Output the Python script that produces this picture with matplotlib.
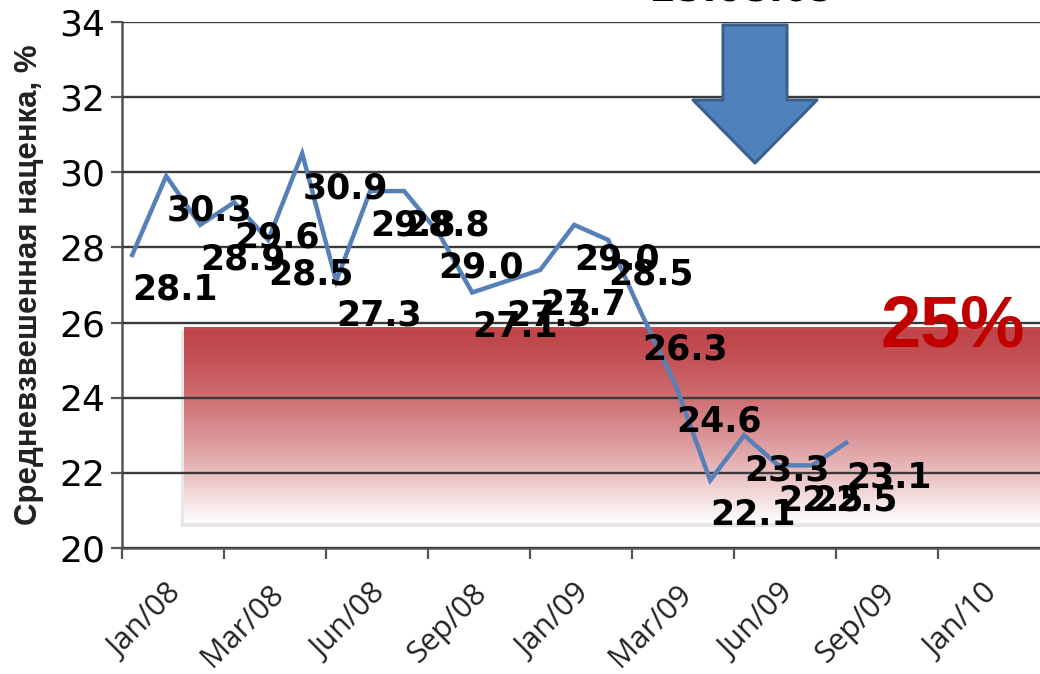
import numpy as np
import matplotlib
matplotlib.use("Agg")
import matplotlib.pyplot as plt
from matplotlib.patches import Polygon, Rectangle

# line values (one per month, Jan/08 .. Oct/09)
margin = [27.8, 29.9, 28.6, 29.2, 28.2, 30.5, 27.1, 29.5, 29.5, 28.4, 26.8,
          27.1, 27.4, 28.6, 28.2, 26.2, 24.3, 21.8, 23.0, 22.2, 22.2, 22.8]
# data labels printed next to the points
labels = [28.1, 30.3, 28.9, 29.6, 28.5, 30.9, 27.3, 29.8, 28.8, 29.0, 27.1,
          27.3, 27.7, 29.0, 28.5, 26.3, 24.6, 22.1, 23.3, 22.5, 22.5, 23.1]
tick_names = ["Jan/08", "Mar/08", "Jun/08", "Sep/08", "Jan/09", "Mar/09",
              "Jun/09", "Sep/09", "Jan/10"]
target = "25%"
date_txt = "25.08.09"

W, H = 1040, 674
fig = plt.figure(figsize=(W / 100, H / 100), dpi=100)
ax = fig.add_axes([122 / W, 1 - 548 / H, 1 - 122 / W, (548 - 22) / H])

x = np.arange(len(margin))
x0 = -0.3
ax.set_xlim(x0, x0 + (1040 - 122) / 34.0)
ax.set_ylim(20, 34)

# red gradient band (axes fraction coords), red on top fading to white
bx0, bx1 = (184 - 122) / (W - 122), 1.0
by0, by1 = (548 - 523) / 526, (548 - 327) / 526
t = np.linspace(0, 1, 256)[:, None, None]  # 0 at top row
top = np.array([0.75, 0.27, 0.29])
img = top + (1 - top) * t ** 1.45
img[:4] = img[:4] * 0.6 + np.array([0.82, 0.32, 0.32]) * 0.4
img = np.repeat(img, 2, axis=1)
ax.add_patch(Rectangle((bx0 - 0.003, by0 - 0.007), bx1 - bx0 + 0.01, by1 - by0,
                       transform=ax.transAxes, color="#c8c8c8", alpha=0.45, zorder=0.5, lw=0))
ax.imshow(img, extent=(bx0, bx1, by0, by1), transform=ax.transAxes, origin="upper",
          aspect="auto", zorder=0.6, interpolation="bilinear")

ax.set_yticks(np.arange(20, 35, 2))
ax.grid(axis="y", color="#3a3a3a", lw=1.7, zorder=1)
ax.set_axisbelow(False)

ticks = x0 + 3 * np.arange(len(tick_names))
ax.set_xticks(ticks)
ax.set_xticklabels([])
ax.set_xticks(ticks + 1.3, minor=True)
ax.set_xticklabels(tick_names, minor=True, rotation=45, ha="right",
                   rotation_mode="anchor", family="Open Sans", fontsize=22,
                   color="#222222")
ax.tick_params(axis="x", which="minor", length=0, pad=22)
ax.tick_params(axis="x", which="major", length=8, width=1.6, color="#555555")
ax.tick_params(axis="y", length=8, width=1.6, color="#555555", labelsize=26, pad=4)

for s in ["top", "right"]:
    ax.spines[s].set_visible(False)
for s in ["left", "bottom"]:
    ax.spines[s].set_color("#555555")
    ax.spines[s].set_linewidth(1.8)

ax.plot(x, margin, color="#5580b8", lw=3.2, zorder=3, solid_joinstyle="miter")

for xi, yi, lab in zip(x, margin, labels):
    ax.annotate(f"{lab:.1f}", (xi, yi), xytext=(31, -25), textcoords="offset points",
                ha="center", va="center", fontsize=25, fontweight="bold",
                color="black", zorder=4)

ax.set_ylabel("Средневзвешенная наценка, %", family="Liberation Sans",
              fontweight="bold", fontsize=22.5, color="#222222")
ax.yaxis.set_label_coords(-0.085, 0.5)

fig.text(1025 / W, 1 - 347 / H, target, color="#c00000", fontsize=52,
         fontweight="bold", family="Liberation Sans", ha="right", va="baseline")
fig.text(743 / W, 1 - 2 / H, date_txt, fontsize=27, fontweight="bold",
         ha="center", va="baseline", color="black")

# blue down arrow in pixel coords
pts = [(723, 25), (787, 25), (787, 100), (817, 100), (755, 163),
       (693, 100), (723, 100)]
arrow = Polygon([(px / W, 1 - py / H) for px, py in pts], closed=True,
                transform=fig.transFigure, facecolor="#4f81bd",
                edgecolor="#3a5f8c", lw=2.2, joinstyle="round", zorder=5)
fig.patches.append(arrow)

fig.savefig("out.png", dpi=100)
